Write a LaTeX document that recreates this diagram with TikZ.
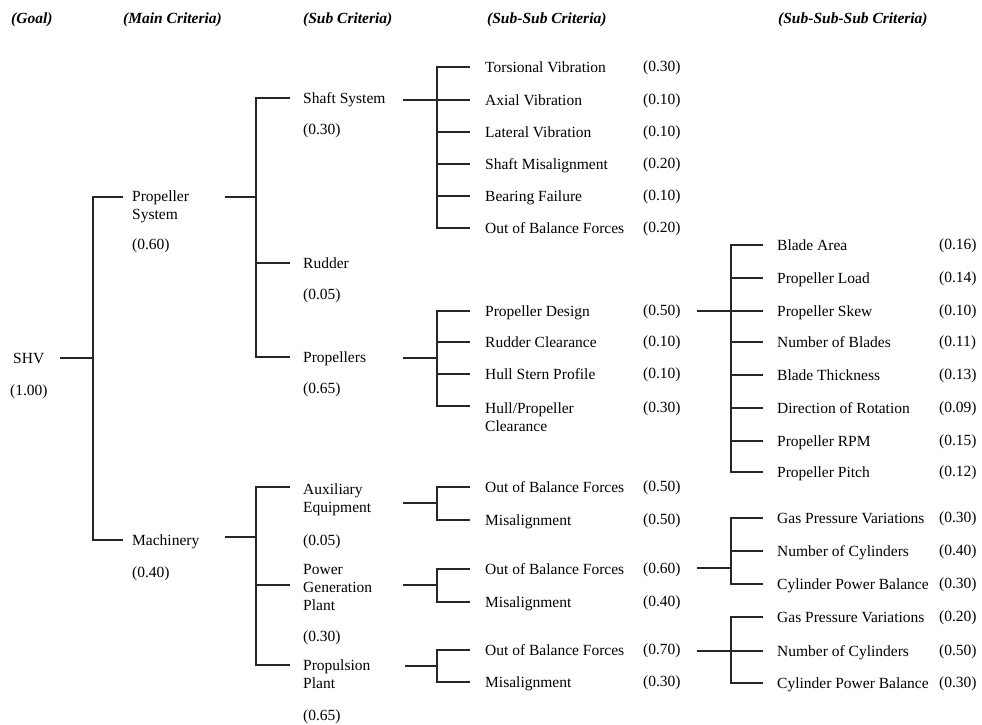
\documentclass[tikz,border=0pt]{standalone}
\usepackage{fontspec}
\setmainfont{Liberation Serif}
\begin{document}
\begin{tikzpicture}[x=1pt,y=-1pt,
  lbl/.style={anchor=base west,inner sep=0pt,font=\fontsize{15.5}{18}\selectfont,align=left},
  hdr/.style={anchor=base west,inner sep=0pt,font=\fontsize{15.5}{18}\selectfont\bfseries\itshape},
  conn/.style={line width=1.2pt,draw=black!85}]
\useasboundingbox[fill=white] (0,0) rectangle (982,724);

% headers
\node[hdr] (h0) at (11,23) {(Goal)};
\node[hdr] (h1) at (123,23) {(Main Criteria)};
\node[hdr] (h2) at (303,23) {(Sub Criteria)};
\node[hdr] (h3) at (487,23) {(Sub-Sub Criteria)};
\node[hdr] (h4) at (778,23) {(Sub-Sub-Sub Criteria)};

% goal
\node[lbl] (shv) at (13,363) {SHV};
\node[lbl] (shv-v) at (10,395) {(1.00)};
\coordinate (shv-o) at (60,358);
\coordinate (j0) at (93,358);
\draw[conn] (shv-o) -- (j0);

% main criteria (multi-line nodes: base = last line)
\node[lbl] (ps) at (132,219) {Propeller\\System};
\node[lbl] (ps-v) at (132,249) {(0.60)};
\node[lbl] (ma) at (132,545) {Machinery};
\node[lbl] (ma-v) at (132,577) {(0.40)};
\coordinate (ps-in) at (123,197);
\coordinate (ma-in) at (123,540);
\draw[conn] (ps-in) -| (j0);
\draw[conn] (ma-in) -| (j0);

% propeller system -> sub criteria
\coordinate (ps-o) at (225,197);
\coordinate (j1) at (256,197);
\draw[conn] (ps-o) -- (j1);
\node[lbl] (ss) at (303,103) {Shaft System};
\node[lbl] (ss-v) at (303,134) {(0.30)};
\node[lbl] (ru) at (303,268) {Rudder};
\node[lbl] (ru-v) at (303,299) {(0.05)};
\node[lbl] (pr) at (303,362) {Propellers};
\node[lbl] (pr-v) at (303,393) {(0.65)};
\coordinate (ss-in) at (290,98);
\coordinate (ru-in) at (290,263);
\coordinate (pr-in) at (290,357);
\draw[conn] (ss-in) -| (j1);
\draw[conn] (pr-in) -| (j1);
\draw[conn] (ru-in) -- (ru-in -| j1);

% machinery -> sub criteria
\coordinate (ma-o) at (225,537);
\coordinate (j2) at (256,537);
\draw[conn] (ma-o) -- (j2);
\node[lbl] (ax) at (303,512) {Auxiliary\\Equipment};
\node[lbl] (ax-v) at (303,545) {(0.05)};
\node[lbl] (pg) at (303,610) {Power\\Generation\\Plant};
\node[lbl] (pg-v) at (303,641) {(0.30)};
\node[lbl] (pp) at (303,688) {Propulsion\\Plant};
\node[lbl] (pp-v) at (303,720) {(0.65)};
\coordinate (ax-in) at (290,487);
\coordinate (pg-in) at (290,585);
\coordinate (pp-in) at (290,665);
\draw[conn] (ax-in) -| (j2);
\draw[conn] (pp-in) -| (j2);
\draw[conn] (pg-in) -- (pg-in -| j2);

% shaft system -> sub-sub
\coordinate (ss-o) at (403,100);
\coordinate (j3) at (437,100);
\draw[conn] (ss-o) -- (j3);
\foreach \y/\n/\t/\v in {67/sa/Torsional Vibration/0.30,100/sb/Axial Vibration/0.10,132/sc/Lateral Vibration/0.10,164/sd/Shaft Misalignment/0.20,196/se/Bearing Failure/0.10,228/sf/Out of Balance Forces/0.20}{
  \coordinate (\n-in) at (470,\y);
  \node[lbl] (\n) at (485,\y+5) {\t};
  \node[lbl] (\n-v) at (643,\y+4) {(\v)};
  \draw[conn] (\n-in) -| (j3);
}

% propellers -> sub-sub
\coordinate (pr-o) at (403,358);
\coordinate (j4) at (437,358);
\draw[conn] (pr-o) -- (j4);
\foreach \y/\n/\t/\v in {311/pa/Propeller Design/0.50,342/pb/Rudder Clearance/0.10,374/pc/Hull Stern Profile/0.10}{
  \coordinate (\n-in) at (470,\y);
  \node[lbl] (\n) at (485,\y+5) {\t};
  \node[lbl] (\n-v) at (643,\y+4) {(\v)};
  \draw[conn] (\n-in) -| (j4);
}
\coordinate (pd-in) at (470,406);
\node[lbl] (pd) at (485,431) {Hull/Propeller\\Clearance};
\node[lbl] (pd-v) at (643,412) {(0.30)};
\draw[conn] (pd-in) -| (j4);

% propeller design -> sub-sub-sub
\coordinate (pa-o) at (697,311);
\coordinate (j5) at (731,311);
\draw[conn] (pa-o) -- (j5);
\foreach \y/\n/\t/\v in {245/qa/Blade Area/0.16,278/qb/Propeller Load/0.14,311/qc/Propeller Skew/0.10,342/qd/Number of Blades/0.11,375/qe/Blade Thickness/0.13,408/qf/Direction of Rotation/0.09,441/qg/Propeller RPM/0.15,472/qh/Propeller Pitch/0.12}{
  \coordinate (\n-in) at (763,\y);
  \node[lbl] (\n) at (777,\y+5) {\t};
  \node[lbl] (\n-v) at (939,\y+4) {(\v)};
  \draw[conn] (\n-in) -| (j5);
}

% auxiliary -> sub-sub
\coordinate (ax-o) at (403,503);
\coordinate (j6) at (437,503);
\draw[conn] (ax-o) -- (j6);
\foreach \y/\n/\t/\v in {487/xa/Out of Balance Forces/0.50,520/xb/Misalignment/0.50}{
  \coordinate (\n-in) at (470,\y);
  \node[lbl] (\n) at (485,\y+5) {\t};
  \node[lbl] (\n-v) at (643,\y+4) {(\v)};
  \draw[conn] (\n-in) -| (j6);
}

% power generation -> sub-sub
\coordinate (pg-o) at (403,585);
\coordinate (j7) at (437,585);
\draw[conn] (pg-o) -- (j7);
\foreach \y/\n/\t/\v in {569/ga/Out of Balance Forces/0.60,602/gb/Misalignment/0.40}{
  \coordinate (\n-in) at (470,\y);
  \node[lbl] (\n) at (485,\y+5) {\t};
  \node[lbl] (\n-v) at (643,\y+4) {(\v)};
  \draw[conn] (\n-in) -| (j7);
}

% propulsion -> sub-sub
\coordinate (pp-o) at (405,666);
\coordinate (j8) at (437,666);
\draw[conn] (pp-o) -- (j8);
\foreach \y/\n/\t/\v in {650/ka/Out of Balance Forces/0.70,682/kb/Misalignment/0.30}{
  \coordinate (\n-in) at (470,\y);
  \node[lbl] (\n) at (485,\y+5) {\t};
  \node[lbl] (\n-v) at (643,\y+4) {(\v)};
  \draw[conn] (\n-in) -| (j8);
}

% power generation OBF -> sub-sub-sub
\coordinate (ga-o) at (697,568);
\coordinate (j9) at (731,568);
\draw[conn] (ga-o) -- (j9);
\foreach \y/\n/\t/\v in {518/ra/Gas Pressure Variations/0.30,551/rb/Number of Cylinders/0.40,584/rc/Cylinder Power Balance/0.30}{
  \coordinate (\n-in) at (763,\y);
  \node[lbl] (\n) at (777,\y+5) {\t};
  \node[lbl] (\n-v) at (939,\y+4) {(\v)};
  \draw[conn] (\n-in) -| (j9);
}

% propulsion OBF -> sub-sub-sub
\coordinate (ka-o) at (697,651);
\coordinate (j10) at (731,651);
\draw[conn] (ka-o) -- (j10);
\foreach \y/\n/\t/\v in {617/ua/Gas Pressure Variations/0.20,651/ub/Number of Cylinders/0.50,683/uc/Cylinder Power Balance/0.30}{
  \coordinate (\n-in) at (763,\y);
  \node[lbl] (\n) at (777,\y+5) {\t};
  \node[lbl] (\n-v) at (939,\y+4) {(\v)};
  \draw[conn] (\n-in) -| (j10);
}
\end{tikzpicture}
\end{document}
